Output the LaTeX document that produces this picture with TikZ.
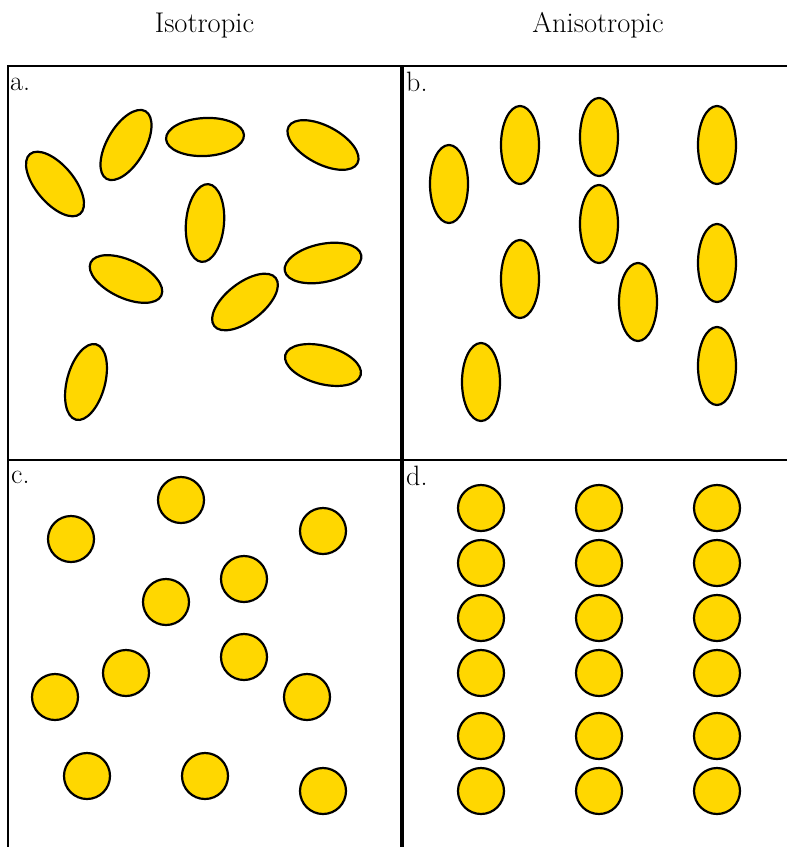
\documentclass[tikz,border=0pt]{standalone}
\usetikzlibrary{shapes.geometric}
\definecolor{grain}{RGB}{255,215,0}
\begin{document}
\begin{tikzpicture}[x=1pt,y=-1pt,
  frame/.style={line width=2pt,line cap=rect},
  divider/.style={line width=4pt},
  grainel/.style={ellipse,draw=black,fill=grain,line width=2.2pt,inner sep=0pt,
    minimum width=78pt,minimum height=38pt},
  grainrod/.style={ellipse,draw=black,fill=grain,line width=2.2pt,inner sep=0pt,
    minimum width=38pt,minimum height=78pt},
  graindot/.style={ellipse,draw=black,fill=grain,line width=2.2pt,inner sep=0pt,
    minimum width=46pt,minimum height=46pt},
  title/.style={font=\fontsize{28.5}{34}\selectfont,anchor=base},
  panel/.style={font=\fontsize{28}{34}\selectfont,anchor=base west,inner sep=0pt}]
\useasboundingbox (0,0) rectangle (787,847);
% titles
\node[title] (tiso) at (204.5,32) {Isotropic};
\node[title] (taniso) at (598,32) {Anisotropic};
% frame
\begin{scope}
\clip (0,0) rectangle (787,847);
\coordinate (tl) at (8,66);
\coordinate (tr) at (790,66);
\coordinate (bl) at (8,850);
\coordinate (ml) at (8,460);
\coordinate (mr) at (790,460);
\coordinate (mt) at (401.5,66);
\coordinate (mb) at (401.5,850);
\draw[frame] (tr) -- (tl) -- (bl);
\draw[frame] (ml) -- (mr);
\draw[divider] (mt) -- (mb);
\end{scope}
% labels
\node[panel] (la) at (10,90) {a.};
\node[panel] (lb) at (406,91) {b.};
\node[panel] (lc) at (11,483) {c.};
\node[panel] (ld) at (406,485) {d.};
% panel a: isotropic ellipses
\node[grainel,rotate=-50] (a1) at (55,184) {};
\node[grainel,rotate=60] (a2) at (126,145) {};
\node[grainel,rotate=3] (a3) at (205,137) {};
\node[grainel,rotate=-28] (a4) at (323,145) {};
\node[grainel,rotate=85] (a5) at (205,223) {};
\node[grainel,rotate=-25] (a6) at (126,279) {};
\node[grainel,rotate=38] (a7) at (245,302) {};
\node[grainel,rotate=12] (a8) at (323,263) {};
\node[grainel,rotate=-15] (a9) at (323,365) {};
\node[grainel,rotate=75] (a10) at (86,382) {};
% panel b: aligned rods
\node[grainrod] (b1) at (449,184) {};
\node[grainrod] (b2) at (520,145) {};
\node[grainrod] (b3) at (599,137) {};
\node[grainrod] (b4) at (717,145) {};
\node[grainrod] (b5) at (599,224) {};
\node[grainrod] (b6) at (520,279) {};
\node[grainrod] (b7) at (638,302) {};
\node[grainrod] (b8) at (717,263) {};
\node[grainrod] (b9) at (481,382) {};
\node[grainrod] (b10) at (717,366) {};
% panel c: random spheres
\node[graindot] (c1) at (71,539) {};
\node[graindot] (c2) at (181,500) {};
\node[graindot] (c3) at (323,531) {};
\node[graindot] (c4) at (244,579) {};
\node[graindot] (c5) at (166,602) {};
\node[graindot] (c6) at (244,657) {};
\node[graindot] (c7) at (126,673) {};
\node[graindot] (c8) at (55,697) {};
\node[graindot] (c9) at (307,697) {};
\node[graindot] (c10) at (87,776) {};
\node[graindot] (c11) at (205,776) {};
\node[graindot] (c12) at (323,791) {};
% panel d: ordered spheres
\foreach \cx [count=\i] in {481,599,717}{
  \foreach \cy [count=\j] in {508,563,618,673,736,791}{
    \node[graindot] (d\i\j) at (\cx,\cy) {};
  }
}
\end{tikzpicture}
\end{document}
